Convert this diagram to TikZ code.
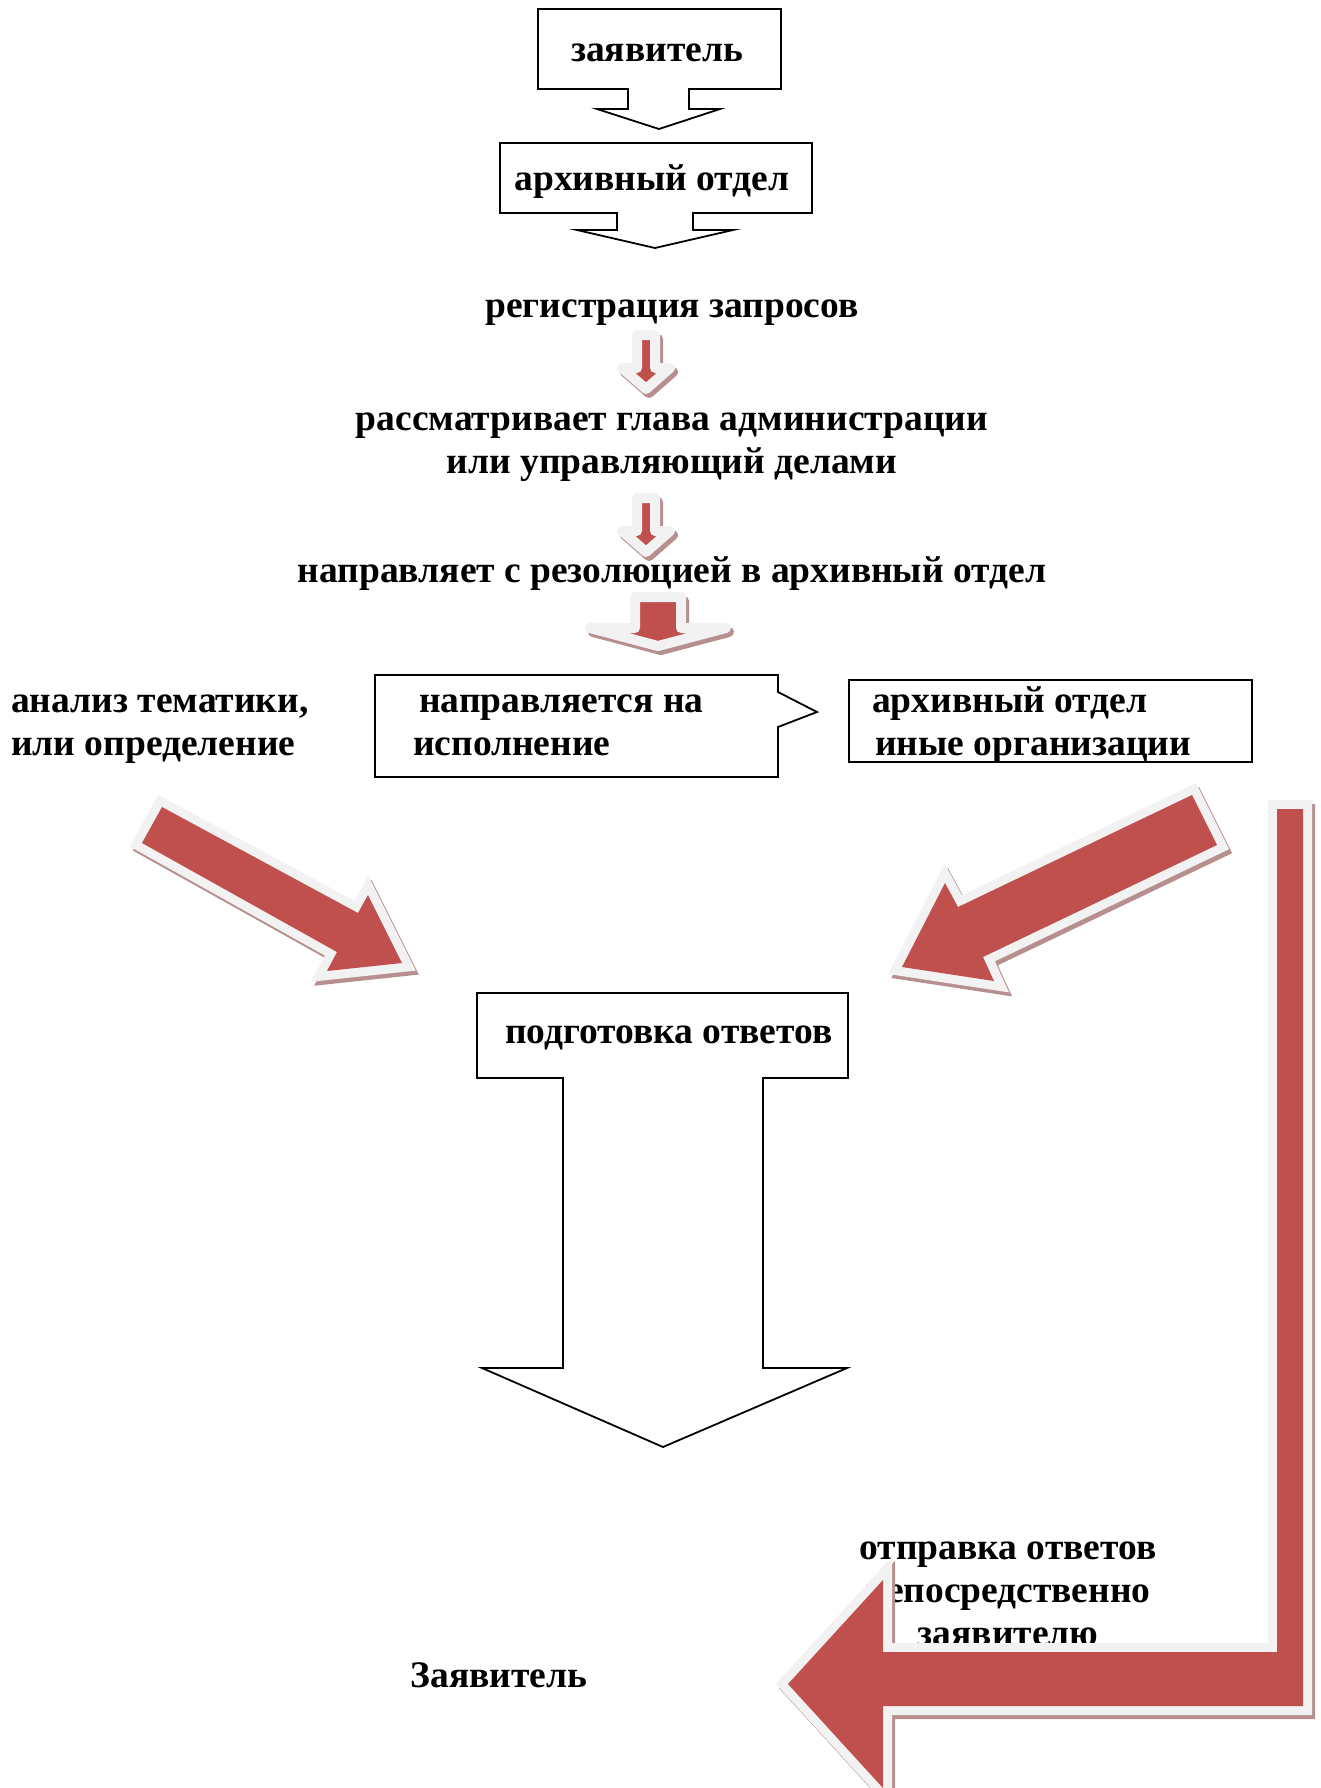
\documentclass[tikz,border=0pt]{standalone}
\usepackage{fontspec}
\setmainfont{Liberation Serif}
\definecolor{arrowred}{RGB}{192,80,77}
\definecolor{arrowrim}{RGB}{242,242,242}
\definecolor{arrowshade}{RGB}{183,143,143}
\tikzset{
  txt/.style={font=\fontsize{37.5}{43}\selectfont\bfseries, inner sep=0pt},
  outline/.style={draw=black, line width=1.8pt, fill=white},
  smallarrow/.style={fill=arrowred, draw=arrowrim, line width=10pt, line join=round},
  smallshade/.style={fill=arrowshade, draw=arrowshade, line width=10pt, line join=round},
  bigarrow/.style={fill=arrowred, preaction={draw=arrowrim, line width=18pt}},
  bigshade/.style={fill=arrowshade, draw=arrowshade, line width=18pt},
}

\begin{document}
\begin{tikzpicture}[x=1pt,y=-1pt]
\useasboundingbox (0,0) rectangle (1320,1788);
% boxes with arrows
\draw[outline] (538,9) -- (781,9) -- (781,89) -- (689,89) -- (689,109) -- (720,109) -- (659,129)
  -- (597,109) -- (628,109) -- (628,89) -- (538,89) -- cycle;
\draw[outline] (500,143) -- (812,143) -- (812,213) -- (693,213) -- (693,230) -- (733,230) -- (655,248)
  -- (577,230) -- (617,230) -- (617,213) -- (500,213) -- cycle;
\draw[outline] (375,675) -- (778,675) -- (778,692) -- (817,712) -- (778,727) -- (778,777) -- (375,777) -- cycle;
\draw[outline] (849,680) rectangle (1252,762);
\draw[outline] (477,993) -- (848,993) -- (848,1078) -- (763,1078) -- (763,1368) -- (847,1368) -- (663,1447)
  -- (482,1368) -- (563,1368) -- (563,1078) -- (477,1078) -- cycle;

% texts (base = last line)
\node[txt, anchor=base] (applicant) at (657,61) {заявитель};
\node[txt, anchor=base] (archive) at (652,190) {архивный отдел};
\node[txt, anchor=base] (register) at (672,317) {регистрация запросов};
\node[txt, anchor=base, align=center] (review) at (672,473) {рассматривает глава администрации\\или управляющий делами};
\node[txt, anchor=base] (resolution) at (672,582) {направляет с резолюцией в архивный отдел};
\node[txt, anchor=base west, align=left] (analysis) at (11,755) {анализ тематики,\\или определение};
\node[txt, anchor=base west, align=left] (execution) at (413,755) {\hspace*{6pt}направляется на\\исполнение};
\node[txt, anchor=base west, align=left] (others) at (872,755) {архивный отдел\\\hspace*{3pt}иные организации};
\node[txt, anchor=base west] (answers) at (505,1043) {подготовка ответов};
\node[txt, anchor=base, align=center] (sending) at (1008,1645) {отправка ответов\\непосредственно\\заявителю};
\node[txt, anchor=base] (applicant2) at (499,1687) {Заявитель};

% small red arrows
\foreach \dy in {0,163} {
  \filldraw[smallshade, shift={(3,\dy+4)}] (637,335) -- (655,335) -- (655,368) -- (670,368) -- (646,389) -- (622,368) -- (637,368) -- cycle;
  \filldraw[smallarrow, shift={(0,\dy)}] (637,335) -- (655,335) -- (655,368) -- (670,368) -- (646,389) -- (622,368) -- (637,368) -- cycle;
}
\filldraw[smallshade, shift={(3,4)}] (635,597) -- (681,597) -- (681,628) -- (726,628) -- (658,646) -- (590,628) -- (635,628) -- cycle;
\filldraw[smallarrow] (635,597) -- (681,597) -- (681,628) -- (726,628) -- (658,646) -- (590,628) -- (635,628) -- cycle;

% big red arrows
\path[bigshade, shift={(3,4)}] (162,807) -- (358,913) -- (368,895) -- (402,963) -- (327,971) -- (337,952) -- (142,843) -- cycle;
\path[bigarrow] (162,807) -- (358,913) -- (368,895) -- (402,963) -- (327,971) -- (337,952) -- (142,843) -- cycle;
\path[bigshade, shift={(3,4)}] (1192,795) -- (1217,845) -- (983,957) -- (994,981) -- (902,967) -- (945,883) -- (958,907) -- cycle;
\path[bigarrow] (1192,795) -- (1217,845) -- (983,957) -- (994,981) -- (902,967) -- (945,883) -- (958,907) -- cycle;
\path[bigshade, shift={(3,4)}] (1277,809) -- (1303,809) -- (1303,1706) -- (883,1706) -- (883,1788) -- (788,1684)
  -- (883,1580) -- (883,1652) -- (1277,1652) -- cycle;
\path[bigarrow] (1277,809) -- (1303,809) -- (1303,1706) -- (883,1706) -- (883,1788) -- (788,1684)
  -- (883,1580) -- (883,1652) -- (1277,1652) -- cycle;
\end{tikzpicture}
\end{document}
